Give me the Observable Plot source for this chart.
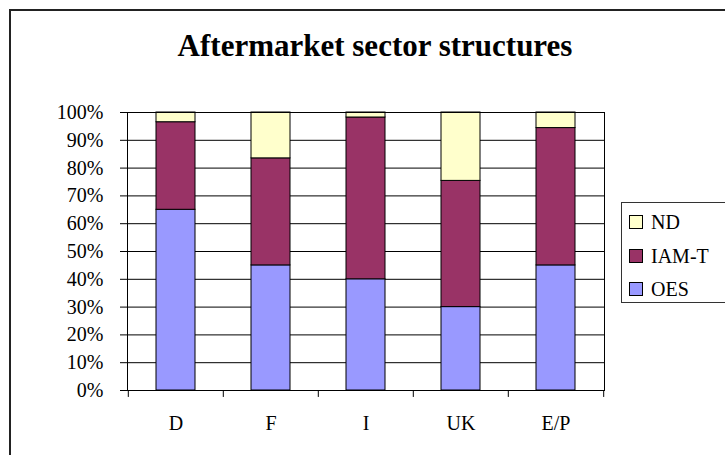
<!DOCTYPE html>
<html><head><meta charset="utf-8">
<script src="https://cdn.jsdelivr.net/npm/d3@7"></script>
<script src="https://cdn.jsdelivr.net/npm/@observablehq/plot@0.6"></script>
<style>
body{margin:0;background:#fff;}
#wrap{position:relative;width:725px;height:455px;overflow:hidden;background:#fff;font-family:"Liberation Serif","Times New Roman",serif;color:#000;}
#border{position:absolute;left:9px;top:9px;width:730px;height:600px;border:2px solid #222;box-sizing:border-box;}
#title{position:absolute;left:9px;width:732px;top:30px;text-align:center;font-weight:bold;font-size:31px;line-height:31px;white-space:nowrap;font-family:"Liberation Serif",serif;}
#chart{position:absolute;left:0;top:0;}
#chart svg text{font-family:"Liberation Serif",serif !important;font-size:20px;}
#legend{position:absolute;left:621px;top:202px;width:130px;height:101px;border:1px solid #333;box-sizing:border-box;background:#fff;font-family:"Liberation Serif",serif;}
.item{position:absolute;left:7px;font-size:20px;line-height:20px;white-space:nowrap;font-family:"Liberation Serif",serif;}
.sw{display:inline-block;width:14px;height:14px;border:1px solid #000;box-sizing:border-box;vertical-align:baseline;margin-right:8px;}
</style>
</head><body>
<div id="wrap">
  <div id="border"></div>
  <div id="title">Aftermarket sector structures</div>
  <div id="chart"></div>
  <div id="legend"></div>
</div>
<script>
const categories = ["D", "F", "I", "UK", "E/P"];
const seriesNames = ["OES", "IAM-T", "ND"];
const oes  = [0.65, 0.45, 0.40, 0.30, 0.45];
const iamt = [0.315, 0.385, 0.582, 0.454, 0.494];
const nd   = [0.035, 0.165, 0.018, 0.246, 0.056];
const yTicks = [0, 0.1, 0.2, 0.3, 0.4, 0.5, 0.6, 0.7, 0.8, 0.9, 1.0];
const colors = ["#9999FF", "#993366", "#FFFFCC"];

const seriesValues = [oes, iamt, nd];
const rows = [];
categories.forEach((c, i) => {
  seriesNames.forEach((s, j) => rows.push({cat: c, series: s, value: seriesValues[j][i]}));
});

const W = 725, H = 455, mL = 127, mR = 121, mT = 112, mB = 65;
const bw = (W - mL - mR) / categories.length;

const chart = Plot.plot({
  width: W, height: H,
  marginLeft: mL, marginRight: mR, marginTop: mT, marginBottom: mB,
  style: {background: "transparent", fontFamily: "Liberation Serif, serif", fontSize: "20px", color: "#000"},
  x: {domain: categories, padding: 0, label: null},
  y: {domain: [0, 1], label: null},
  color: {domain: seriesNames, range: colors},
  marks: [
    Plot.ruleY(yTicks, {stroke: "#000", strokeWidth: 1}),
    Plot.barY(rows, {x: "cat", y: "value", fill: "series", stroke: "#000", strokeWidth: 1, insetLeft: 28, insetRight: 28}),
    Plot.frame({stroke: "#000"}),
    Plot.axisY({ticks: yTicks, tickFormat: d3.format(".0%"), tickSize: 7, tickPadding: 17, label: null, stroke: "#000"}),
    Plot.axisX({tickSize: 0, tickPadding: 25, label: null}),
    Plot.ruleX(categories, {x: d => d, dx: -bw / 2, y1: 0, y2: -0.025, stroke: "#000"}),
    Plot.ruleX(categories.slice(-1), {x: d => d, dx: bw / 2, y1: 0, y2: -0.025, stroke: "#000"})
  ]
});
document.getElementById("chart").appendChild(chart);

const legend = document.getElementById("legend");
const legendOrder = ["ND", "IAM-T", "OES"];
legendOrder.forEach((s, k) => {
  const it = document.createElement("div");
  it.className = "item";
  it.style.top = (9 + k * 33.5) + "px";
  const sw = document.createElement("span");
  sw.className = "sw";
  sw.style.background = colors[seriesNames.indexOf(s)];
  it.appendChild(sw);
  it.appendChild(document.createTextNode(s));
  legend.appendChild(it);
});
</script>
</body></html>
